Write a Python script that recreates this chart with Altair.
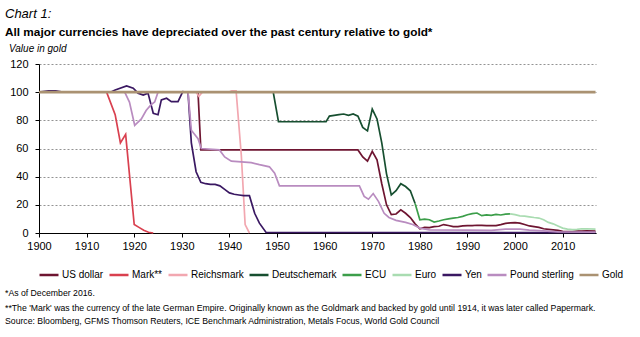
import altair as alt
import pandas as pd

# ---------------- data ----------------
series_names = ["US dollar", "Mark**", "Reichsmark", "Deutschemark", "ECU",
                "Euro", "Yen", "Pound sterling", "Gold"]
series_colors = ["#6e1531", "#d9404f", "#f2a7b0", "#174f30", "#3c9e4a",
                 "#a9dcb1", "#3a1862", "#b98cc0", "#aa9272"]

usd_years = [1900, 1933.4, 1934, 1967, 1968, 1969, 1970, 1971, 1972, 1973, 1974,
             1975, 1976, 1977, 1978, 1979, 1980, 1981, 1982, 1983, 1984, 1985,
             1986, 1987, 1988, 1989, 1990, 1991, 1992, 1993, 1994, 1995, 1996,
             1997, 1998, 1999, 2000, 2001, 2002, 2003, 2004, 2005, 2006, 2007,
             2008, 2009, 2010, 2011, 2012, 2013, 2014, 2015, 2016.9]
usd_values = [100, 100, 59, 59, 54, 51, 58, 52, 35, 20, 13, 13.5, 16.5, 14, 11,
              6.5, 3, 4, 3.8, 4.5, 4.8, 6, 5.3, 4.5, 4.5, 5, 5.2, 5.3, 5.5, 5.4,
              5.2, 5.2, 5.3, 6, 6.8, 7.2, 7.3, 7, 6, 5, 4.5, 4, 3, 2.6, 2.2,
              1.8, 1.2, 1, 1, 1.3, 1.4, 1.5, 1.4]

mark_years = [1900, 1914.2, 1916, 1917.1, 1918.2, 1920, 1921, 1922, 1923, 1924]
mark_values = [100, 100, 84, 64, 70, 6, 4, 2, 0.5, 0]

reichsmark_years = [1924, 1933, 1933.6, 1934.3, 1939.8, 1940.5, 1941.4, 1942.5,
                    1943.3, 1944.2]
reichsmark_values = [100, 100, 97, 100, 100, 101, 101, 55, 6, 0]

dm_years = [1948, 1949.2, 1950.3, 1960.3, 1961, 1962, 1963, 1964, 1965, 1966,
            1967, 1968, 1969, 1970, 1971, 1972, 1973, 1974, 1975, 1976, 1977,
            1978, 1979]
dm_values = [100, 100, 79, 79, 83, 83.5, 84, 84.5, 83.5, 84.5, 83, 75, 72.5, 88,
             81, 64, 42, 27, 30, 35, 33, 30, 21]

ecu_years = [1979, 1980, 1981, 1982, 1983, 1984, 1985, 1986, 1987, 1988, 1989,
             1990, 1991, 1992, 1993, 1994, 1995, 1996, 1997, 1998, 1999]
ecu_values = [21, 9.4, 9.8, 9.4, 7.8, 8.5, 9.4, 10, 10.6, 11, 11.8, 13, 13.8,
              14.2, 12.3, 12.8, 12.5, 13.2, 12.8, 13.4, 13.6]

euro_years = [1999, 2000, 2001, 2002, 2003, 2004, 2005, 2006, 2007, 2008, 2009,
              2010, 2011, 2012, 2013, 2014, 2015, 2016.9]
euro_values = [13.6, 13, 12.2, 12, 11.5, 11, 10.6, 9.4, 7.5, 6.5, 5, 3.5, 2.8,
               2.4, 2.6, 3, 3, 2.8]

yen_years = [1900, 1902, 1903.5, 1905, 1915, 1916, 1918.4, 1919.8, 1920.8,
             1921.9, 1922.9, 1924, 1925, 1925.7, 1926.8, 1927.8, 1929.2, 1930.2,
             1931.3, 1932, 1933, 1934, 1935, 1936, 1937, 1938, 1939, 1940, 1941,
             1942, 1943, 1944.2, 1945.3, 1946.3, 1947.7, 2016.9]
yen_values = [100, 101, 101, 100, 100, 101.5, 104.5, 102.8, 99.3, 98, 99.3, 85,
              84, 94.5, 95.7, 93.3, 93.3, 100.4, 100, 64, 43.5, 36, 35, 34.5,
              34.5, 33.5, 31, 28.5, 27.5, 27, 26.5, 26.5, 14, 7, 0.4, 0.3]

gbp_years = [1900, 1918, 1919, 1920.1, 1921.5, 1922.5, 1923.5, 1924.3, 1925,
             1931.3, 1932, 1933.4, 1934.1, 1937.9, 1939, 1940.4, 1944.6, 1946.3,
             1948.4, 1949.5, 1950.5, 1967.3, 1968.3, 1969.2, 1970.2, 1971.3,
             1972.5, 1973.5, 1975, 1977, 1978.5, 1980, 1982, 1990, 1995, 1998,
             2001, 2003, 2006, 2009, 2016.9]
gbp_values = [100, 100, 93, 76.5, 81, 87, 91, 93, 100, 100, 73, 67, 60, 59, 54,
              51, 50, 48.5, 47, 42.5, 33.5, 33.5, 26, 24, 28, 22.5, 14, 11, 9,
              7.5, 6, 3.5, 2.2, 2, 1.8, 2.8, 2.8, 2, 1.5, 0.8, 0.6]

gold_years = [1900, 2016.9]
gold_values = [100, 100]

x_ticks = [1900, 1910, 1920, 1930, 1940, 1950, 1960, 1970, 1980, 1990, 2000, 2010]
y_ticks = [0, 20, 40, 60, 80, 100, 120]

chart_label = "Chart 1:"
title_text = "All major currencies have depreciated over the past century relative to gold*"
y_title = "Value in gold"
note1 = "*As of December 2016."
note2 = ("**The 'Mark' was the currency of the late German Empire. Originally known as "
         "the Goldmark and backed by gold until 1914, it was later called Papermark.")
note3 = ("Source: Bloomberg, GFMS Thomson Reuters, ICE Benchmark Administration, "
         "Metals Focus, World Gold Council")

all_series = [
    ("US dollar", usd_years, usd_values),
    ("Mark**", mark_years, mark_values),
    ("Reichsmark", reichsmark_years, reichsmark_values),
    ("Deutschemark", dm_years, dm_values),
    ("ECU", ecu_years, ecu_values),
    ("Euro", euro_years, euro_values),
    ("Yen", yen_years, yen_values),
    ("Pound sterling", gbp_years, gbp_values),
    ("Gold", gold_years, gold_values),
]

rows = []
for name, ys, vs in all_series:
    for yr, v in zip(ys, vs):
        rows.append({"series": name, "year": yr, "value": v})
df = pd.DataFrame(rows)

# ---------------- chart ----------------
FONT = "Liberation Sans, Arial, sans-serif"

W, H = 557, 169
LEFT, TOP = 39, 64

color_scale = alt.Scale(domain=series_names, range=series_colors)

x_enc = alt.X("year:Q", scale=alt.Scale(domain=[1900, 2017], nice=False, zero=False),
              axis=alt.Axis(values=x_ticks, format="d", title=None, grid=False,
                            labelFont=FONT, labelFontSize=11, labelColor="#000",
                            domainColor="#000", tickColor="#000", tickSize=4,
                            labelPadding=3, labelFlush=False))
y_enc = alt.Y("value:Q", scale=alt.Scale(domain=[0, 120], nice=False),
              axis=alt.Axis(values=y_ticks, title=None, grid=True,
                            gridColor="#777", gridDash=[2, 2], gridWidth=0.8,
                            labelFont=FONT, labelFontSize=11, labelColor="#000",
                            domainColor="#000", tickColor="#000", tickSize=4,
                            labelPadding=7))

layers = []
for name, _, _ in all_series:
    sw = 2.6 if name == "Gold" else 1.7
    layers.append(
        alt.Chart(df).transform_filter(alt.datum.series == name)
        .mark_line(strokeWidth=sw, interpolate="linear")
        .encode(
            x=x_enc, y=y_enc,
            color=alt.Color("series:N", scale=color_scale,
                            legend=alt.Legend(
                                title=None, orient="none", direction="horizontal",
                                columns=9, legendX=-1, legendY=200,
                                symbolType="stroke", symbolSize=361,
                                symbolStrokeWidth=2.5, labelFont=FONT,
                                labelFontSize=10, labelColor="#000",
                                labelOffset=2, columnPadding=0)),
        )
    )


def txt(text, ax, ay, size, weight="normal", style="normal"):
    return alt.Chart(alt.Data(values=[{}])).mark_text(
        text=text, align="left", baseline="alphabetic", font=FONT,
        fontSize=size, fontWeight=weight, fontStyle=style, color="#000"
    ).encode(x=alt.value(ax - LEFT), y=alt.value(ay - TOP))


texts = [
    txt(chart_label, 5, 18, 13, style="italic"),
    txt(title_text, 5, 36, 11.8, weight="bold"),
    txt(y_title, 9, 52, 10, style="italic"),
    txt(note1, 5, 296, 8.7),
    txt(note2, 5, 311, 8.7),
    txt(note3, 5, 324, 8.7),
]

chart = alt.layer(*layers, *texts).properties(
    width=W, height=H,
    autosize=alt.AutoSizeParams(type="none"),
    padding={"left": LEFT, "top": TOP, "right": 640 - LEFT - W, "bottom": 337 - TOP - H},
    background="white",
).configure_view(stroke=None)

chart.save("out.html", embed_options={"renderer": "svg", "actions": False})
